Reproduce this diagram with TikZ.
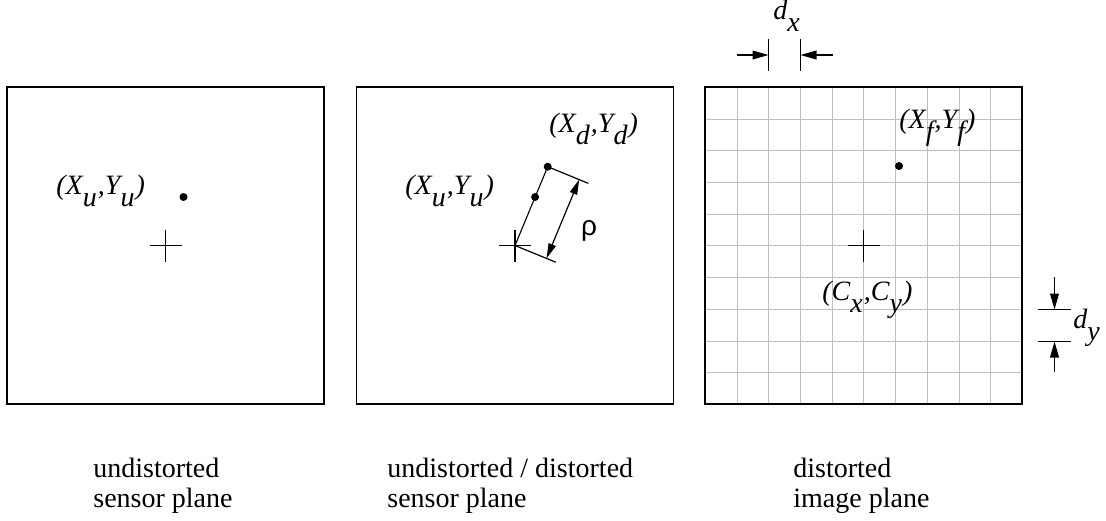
\documentclass[tikz,border=0pt]{standalone}
\usepackage{fontspec}
\setmainfont{Liberation Serif}
\newfontfamily\rhofont{Liberation Sans}
\usetikzlibrary{arrows.meta,calc,positioning}
\newcommand{\lowsub}[1]{\raisebox{-0.44em}{#1}\kern0.04em}
\tikzset{
  cam frame/.style={line width=0.8pt},
  cam grid/.style={black!25,line width=0.75pt},
  cam cross/.style={line width=0.55pt},
  cam dot/.style={circle,fill=black,inner sep=0pt,minimum size=4pt},
  cam tick/.style={line width=0.6pt},
  cam dim/.style={line width=0.6pt,-{Triangle[length=8pt,width=4.4pt]}},
  cam rho/.style={line width=0.6pt,{Triangle[length=7.5pt,width=3.8pt]}-{Triangle[length=7.5pt,width=3.8pt]}},
  cam label/.style={font=\fontsize{14}{15}\selectfont\itshape,inner sep=0pt},
  cam caption/.style={font=\fontsize{14}{15}\selectfont,align=left,inner sep=0pt}
}
\begin{document}
\begin{tikzpicture}[x=0.5pt,y=-0.5pt]
\useasboundingbox (0,0) rectangle (1106,520);

% plane centres
\coordinate (c1) at (165.5,245.5);
\coordinate (c2) at (515,245.5);
\coordinate (c3) at (863.5,245.5);

% pixel grid of the image plane
\foreach \k in {1,...,9}{
  \draw[cam grid] ({705.5+round(31.7*\k)},87) -- ({705.5+round(31.7*\k)},404);
  \draw[cam grid] (705,{87.5+round(31.7*\k)}) -- (1022,{87.5+round(31.7*\k)});
}

\foreach \n in {1,2,3}{
  \draw[cam frame] ($(c\n)+(-158.5,-158.5)$) rectangle ($(c\n)+(158.5,158.5)$);
  \draw[cam cross] ($(c\n)+(-16,0)$) -- ($(c\n)+(16,0)$)
                   ($(c\n)+(0,-16)$) -- ($(c\n)+(0,16)$);
}

\node[cam dot] (pu1) at ($(c1)+(18,-48.5)$) {};
\node[cam dot] (pu2) at ($(c2)+(20.1,-48.5)$) {};
\node[cam dot] (pd2) at ($(c2)+(32.7,-78.8)$) {};
\node[cam dot] (pf3) at ($(c3)+(35.5,-79.5)$) {};

% radial distance rho
\coordinate (ext top) at ($(pd2.center)+(40.7,16.7)$);
\coordinate (ext bot) at ($(c2)+(40.7,16.7)$);
\coordinate (rho top) at ($(pd2.center)+(31.5,12.9)$);
\coordinate (rho bot) at ($(c2)+(31.5,12.9)$);
\draw[cam cross] (c2) -- (pd2.center);
\draw[cam tick] (pd2.center) -- (ext top);
\draw[cam tick] (c2) -- (ext bot);
\draw[cam rho] (rho top) -- (rho bot);
\node[font=\rhofont\fontsize{14}{15}\selectfont] (rho) at ($(c2)+(74,-15)$) {ρ};

\node[cam label,anchor=base west] (xu1) at (56,194) {(X\lowsub{u},Y\lowsub{u})};
\node[cam label,anchor=base west] (xu2) at (405,194) {(X\lowsub{u},Y\lowsub{u})};
\node[cam label,anchor=base west] (xd2) at (549,132) {(X\lowsub{d},Y\lowsub{d})};
\node[cam label,anchor=base west] (xf3) at (899,128) {(X\lowsub{f},Y\lowsub{f})};
\node[cam label,anchor=base west] (cc3) at (822,300) {(C\lowsub{x},C\lowsub{y})};

% pixel size dimensions
\coordinate (dx l) at (768.5,55);
\coordinate (dx r) at (800.5,55);
\coordinate (dx l out) at (737,55);
\coordinate (dx r out) at (833,55);
\draw[cam tick] ($(dx l)+(0,-16)$) -- ($(dx l)+(0,16)$);
\draw[cam tick] ($(dx r)+(0,-16)$) -- ($(dx r)+(0,16)$);
\draw[cam dim] (dx l out) -- (dx l);
\draw[cam dim] (dx r out) -- (dx r);
\node[cam label,anchor=base west] (dx) at (773,19) {d\lowsub{x}};

\coordinate (dy t) at (1054.5,309.5);
\coordinate (dy b) at (1054.5,341.5);
\coordinate (dy t out) at (1054.5,277);
\coordinate (dy b out) at (1054.5,372);
\draw[cam tick] ($(dy t)+(-16.5,0)$) -- ($(dy t)+(16.5,0)$);
\draw[cam tick] ($(dy b)+(-16.5,0)$) -- ($(dy b)+(16.5,0)$);
\draw[cam dim] (dy t out) -- (dy t);
\draw[cam dim] (dy b out) -- (dy b);
\node[cam label,anchor=base west] (dy) at (1073,328) {d\lowsub{y}};

\node[cam caption,anchor=base west] (cap1) at (93,507) {undistorted\\sensor plane};
\node[cam caption,anchor=base west] (cap2) at (387,507) {undistorted / distorted\\sensor plane};
\node[cam caption,anchor=base west] (cap3) at (793,507) {distorted\\image plane};
\end{tikzpicture}
\end{document}
